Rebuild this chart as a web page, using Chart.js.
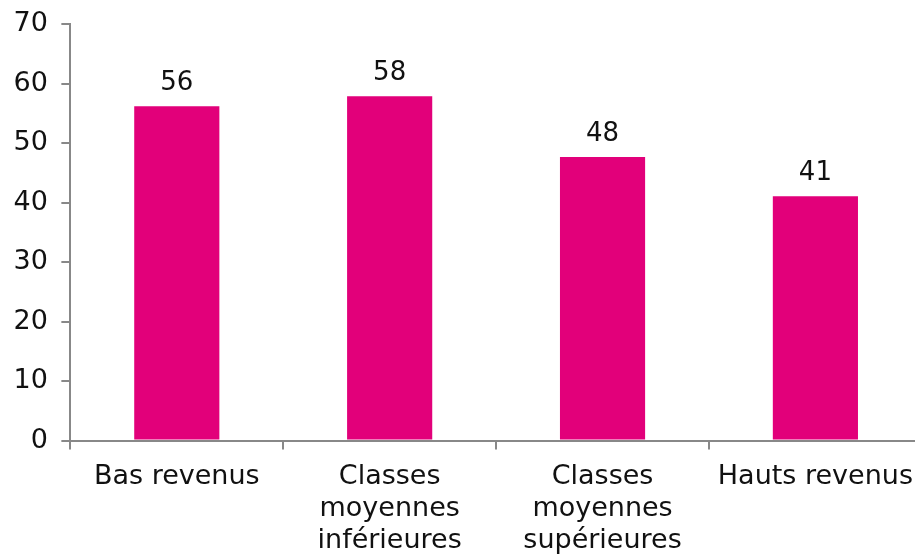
<!DOCTYPE html>
<html lang="fr">
<head>
    <meta charset="UTF-8">
    <title>Revenus</title>
    <script src="https://cdn.jsdelivr.net/npm/chart.js"></script>
    <style>
        html, body { margin: 0; padding: 0; background: #fff; overflow: hidden; height: 556px; }
        .box { position: relative; width: 924px; height: 568px; }
    </style>
</head>
<body>
    <div class="box">
        <canvas id="graphique"></canvas>
    </div>

    <script>
        const categories = [
            'Bas revenus',
            ['Classes', 'moyennes', 'inférieures'],
            ['Classes', 'moyennes', 'supérieures'],
            'Hauts revenus'
        ];
        const valeurs = [56.2, 57.9, 47.7, 41.1];
        const yTicks = [0, 10, 20, 30, 40, 50, 60, 70];

        const police = "'DejaVu Sans', Verdana, sans-serif";

        // etiquettes au-dessus des barres
        const etiquettes = {
            id: 'etiquettes',
            afterDatasetsDraw(chart) {
                const ctx = chart.ctx;
                const meta = chart.getDatasetMeta(0);
                ctx.save();
                ctx.font = '26px ' + police;
                ctx.fillStyle = '#111';
                ctx.textAlign = 'center';
                ctx.textBaseline = 'alphabetic';
                meta.data.forEach((bar, i) => {
                    ctx.fillText(Math.round(valeurs[i]), bar.x, bar.y - 16);
                });
                ctx.restore();
            }
        };

        var ctx = document.getElementById('graphique').getContext('2d');
        var graphique = new Chart(ctx, {
            type: 'bar',
            data: {
                labels: categories,
                datasets: [{
                    data: valeurs,
                    backgroundColor: '#E2007A',
                    barPercentage: 0.4,
                    categoryPercentage: 1
                }]
            },
            options: {
                responsive: true,
                maintainAspectRatio: false,
                animation: false,
                layout: { padding: { left: 0, top: 6, right: 0, bottom: 0 } },
                plugins: {
                    legend: { display: false },
                    tooltip: { enabled: false }
                },
                scales: {
                    x: {
                        offset: true,
                        border: { color: '#888', width: 2 },
                        grid: {
                            offset: true,
                            drawOnChartArea: false,
                            drawTicks: true,
                            tickLength: 9,
                            color: '#888',
                            lineWidth: 2
                        },
                        ticks: {
                            color: '#111',
                            font: { family: police, size: 27, lineHeight: 1.19 },
                            padding: 11,
                            maxRotation: 0,
                            autoSkip: false
                        }
                    },
                    y: {
                        min: 0,
                        max: 70,
                        afterBuildTicks: axis => {
                            axis.ticks = yTicks.map(v => ({ value: v }));
                        },
                        border: { color: '#888', width: 2 },
                        grid: {
                            drawOnChartArea: false,
                            drawTicks: true,
                            tickLength: 9,
                            color: '#888',
                            lineWidth: 2
                        },
                        ticks: {
                            color: '#111',
                            font: { family: police, size: 27, lineHeight: 0.8 },
                            padding: 13.5
                        }
                    }
                }
            },
            plugins: [etiquettes]
        });
    </script>
</body>
</html>
